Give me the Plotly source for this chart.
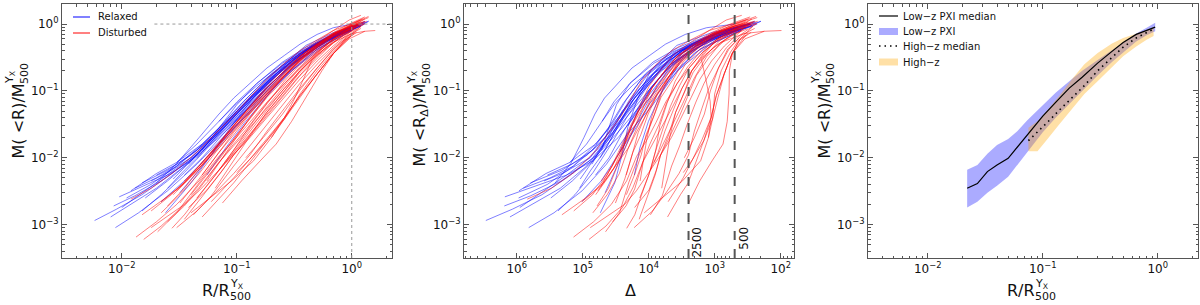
import plotly.graph_objects as go
import math

# ---------------- data ----------------
# Panel 1: enclosed-mass profiles, R/R500 (r) and M(<R)/M500 (m)
relaxed_r = [
    [0.0058, 0.009, 0.015, 0.025, 0.045, 0.08, 0.15, 0.3, 0.6, 1.1],
    [0.008, 0.012, 0.02, 0.035, 0.06, 0.1, 0.2, 0.4, 0.8, 1.3],
    [0.0088, 0.014, 0.025, 0.045, 0.08, 0.15, 0.3, 0.6, 1.0],
    [0.0095, 0.015, 0.025, 0.04, 0.07, 0.12, 0.25, 0.5, 1.0, 1.4],
    [0.0085, 0.013, 0.022, 0.04, 0.07, 0.12, 0.2, 0.4, 0.8, 1.2],
    [0.012, 0.02, 0.03, 0.05, 0.08, 0.12, 0.2, 0.35, 0.6, 1.0],
    [0.015, 0.022, 0.035, 0.06, 0.1, 0.18, 0.35, 0.7, 1.2],
    [0.013, 0.02, 0.03, 0.05, 0.09, 0.16, 0.3, 0.55, 1.0],
    [0.018, 0.025, 0.04, 0.06, 0.1, 0.2, 0.4, 0.8],
    [0.02, 0.03, 0.045, 0.07, 0.11, 0.18, 0.3, 0.5, 0.9, 1.3],
    [0.025, 0.035, 0.05, 0.08, 0.13, 0.25, 0.5, 1.0],
    [0.016, 0.025, 0.04, 0.065, 0.1, 0.16, 0.3, 0.6, 1.1],
    [0.03, 0.045, 0.07, 0.1, 0.15, 0.25, 0.45, 0.8, 1.2],
    [0.022, 0.035, 0.06, 0.1, 0.15, 0.25, 0.45, 0.8, 1.3],
    [0.035, 0.05, 0.075, 0.11, 0.17, 0.28, 0.5, 0.9],
    [0.028, 0.04, 0.06, 0.09, 0.14, 0.22, 0.4, 0.7, 1.1],
    [0.024, 0.04, 0.06, 0.09, 0.14, 0.22, 0.4, 0.7, 1.2],
    [0.045, 0.065, 0.1, 0.15, 0.25, 0.4, 0.7, 1.0],
    [0.05, 0.07, 0.1, 0.15, 0.25, 0.45, 0.8, 1.2],
    [0.06, 0.08, 0.12, 0.18, 0.3, 0.5, 0.9, 1.3],
    [0.01, 0.016, 0.025, 0.04, 0.07, 0.12, 0.22, 0.4, 0.7, 1.0],
    [0.011, 0.018, 0.03, 0.05, 0.08, 0.13, 0.22, 0.4, 0.7, 1.1],
    [0.032, 0.05, 0.08, 0.12, 0.2, 0.35, 0.6, 1.0],
    [0.07, 0.1, 0.15, 0.25, 0.4, 0.7, 1.1],
    [0.038, 0.055, 0.08, 0.12, 0.2, 0.35, 0.6, 1.0, 1.4],
    [0.09, 0.13, 0.2, 0.3, 0.5, 0.8, 1.2],
    [0.015, 0.025, 0.04, 0.06, 0.09, 0.14, 0.25, 0.45, 0.8, 1.2],
    [0.055, 0.08, 0.12, 0.2, 0.35, 0.6, 1.0],
    [0.02, 0.03, 0.047, 0.07, 0.094, 0.13, 0.183, 0.26, 0.355, 0.5, 0.69, 1.0],
]
relaxed_m = [
    [0.00115, 0.0017, 0.0028, 0.0052, 0.011, 0.027, 0.075, 0.24, 0.55, 0.9],
    [0.0013, 0.002, 0.0035, 0.0075, 0.018, 0.042, 0.13, 0.38, 0.75, 1.05],
    [0.0009, 0.0015, 0.0032, 0.008, 0.022, 0.06, 0.2, 0.5, 0.8],
    [0.0026, 0.0037, 0.0055, 0.009, 0.02, 0.05, 0.16, 0.42, 0.8, 1.1],
    [0.0019, 0.0027, 0.0045, 0.0095, 0.024, 0.06, 0.15, 0.4, 0.72, 0.92],
    [0.0032, 0.0058, 0.0085, 0.016, 0.035, 0.075, 0.18, 0.38, 0.62, 0.88],
    [0.0016, 0.0028, 0.006, 0.016, 0.042, 0.12, 0.36, 0.72, 1.0],
    [0.0035, 0.005, 0.0075, 0.015, 0.038, 0.1, 0.28, 0.55, 0.85],
    [0.0045, 0.006, 0.01, 0.02, 0.05, 0.16, 0.42, 0.8],
    [0.0055, 0.008, 0.013, 0.028, 0.065, 0.15, 0.3, 0.52, 0.85, 1.08],
    [0.0035, 0.0065, 0.012, 0.03, 0.075, 0.21, 0.5, 0.9],
    [0.0025, 0.0045, 0.009, 0.022, 0.05, 0.11, 0.3, 0.62, 0.95],
    [0.0085, 0.016, 0.035, 0.065, 0.12, 0.24, 0.45, 0.72, 0.95],
    [0.0022, 0.0045, 0.012, 0.03, 0.065, 0.15, 0.37, 0.7, 1.0],
    [0.0055, 0.01, 0.022, 0.045, 0.1, 0.22, 0.47, 0.8],
    [0.0048, 0.009, 0.018, 0.038, 0.085, 0.18, 0.4, 0.68, 0.93],
    [0.0015, 0.0042, 0.011, 0.03, 0.08, 0.2, 0.48, 0.75, 1.0],
    [0.01, 0.02, 0.045, 0.09, 0.2, 0.36, 0.62, 0.8],
    [0.013, 0.028, 0.062, 0.13, 0.26, 0.48, 0.78, 1.0],
    [0.012, 0.022, 0.05, 0.11, 0.25, 0.47, 0.82, 1.1],
    [0.0018, 0.0032, 0.0055, 0.01, 0.024, 0.065, 0.18, 0.4, 0.7, 0.9],
    [0.0025, 0.004, 0.0075, 0.016, 0.034, 0.075, 0.17, 0.38, 0.66, 0.9],
    [0.003, 0.0075, 0.02, 0.045, 0.12, 0.3, 0.55, 0.82],
    [0.035, 0.068, 0.13, 0.27, 0.45, 0.72, 0.98],
    [0.008, 0.016, 0.032, 0.07, 0.17, 0.36, 0.6, 0.86, 1.1],
    [0.03, 0.06, 0.13, 0.25, 0.45, 0.7, 0.95],
    [0.0042, 0.0065, 0.011, 0.02, 0.04, 0.09, 0.22, 0.46, 0.78, 1.02],
    [0.0055, 0.014, 0.035, 0.1, 0.28, 0.56, 0.85],
    [0.0042, 0.0082, 0.02, 0.045, 0.078, 0.13, 0.22, 0.34, 0.5, 0.7, 0.88, 1.0],
]
disturbed_r = [
    [0.0133, 0.02, 0.03, 0.047, 0.07, 0.094, 0.13, 0.183, 0.26, 0.355, 0.5, 0.69, 1.0],
    [0.0155, 0.022, 0.033, 0.047, 0.07, 0.094, 0.13, 0.183, 0.26, 0.355, 0.5, 0.69, 0.95, 1.25],
    [0.0205, 0.03, 0.047, 0.07, 0.094, 0.13, 0.183, 0.26, 0.355, 0.5, 0.69, 0.95, 1.3],
    [0.0273, 0.035, 0.047, 0.07, 0.094, 0.13, 0.183, 0.26, 0.355, 0.5, 0.69, 1.0, 1.3, 1.6],
    [0.075, 0.11, 0.16, 0.22, 0.3, 0.42, 0.55, 0.7, 0.9, 1.05],
    [0.04, 0.06, 0.09, 0.14, 0.2, 0.26, 0.31, 0.38, 0.45, 0.6, 0.85, 1.1],
    [0.012, 0.018, 0.028, 0.047, 0.07, 0.094, 0.13, 0.183, 0.26, 0.355, 0.5, 0.69, 1.0, 1.25],
    [0.018, 0.027, 0.04, 0.06, 0.094, 0.13, 0.183, 0.26, 0.355, 0.5, 0.69, 1.0, 1.2],
    [0.022, 0.033, 0.047, 0.07, 0.094, 0.13, 0.183, 0.26, 0.355, 0.5, 0.69, 1.0],
    [0.035, 0.047, 0.07, 0.094, 0.13, 0.183, 0.26, 0.355, 0.5, 0.69, 1.0, 1.3],
    [0.03, 0.047, 0.07, 0.094, 0.13, 0.183, 0.26, 0.355, 0.5, 0.69, 0.95, 1.2],
    [0.045, 0.065, 0.094, 0.13, 0.183, 0.26, 0.355, 0.5, 0.69, 1.0, 1.3],
    [0.055, 0.075, 0.094, 0.13, 0.183, 0.26, 0.355, 0.5, 0.69, 1.0, 1.15],
    [0.025, 0.035, 0.047, 0.07, 0.094, 0.13, 0.183, 0.26, 0.355, 0.5, 0.69, 1.0, 1.15],
    [0.038, 0.055, 0.075, 0.094, 0.13, 0.183, 0.26, 0.355, 0.5, 0.69, 1.0, 1.2],
    [0.05, 0.07, 0.094, 0.13, 0.183, 0.26, 0.355, 0.5, 0.69, 1.0, 1.4],
    [0.065, 0.094, 0.13, 0.183, 0.26, 0.355, 0.5, 0.69, 0.9, 1.1],
    [0.015, 0.024, 0.035, 0.047, 0.07, 0.094, 0.13, 0.183, 0.26, 0.355, 0.5, 0.69, 1.0, 1.1],
    [0.032, 0.047, 0.07, 0.094, 0.13, 0.183, 0.26, 0.355, 0.5, 0.69, 1.0],
    [0.042, 0.06, 0.094, 0.13, 0.183, 0.26, 0.355, 0.5, 0.69, 0.9, 1.3],
    [0.07, 0.094, 0.13, 0.183, 0.26, 0.355, 0.5, 0.69, 1.0, 1.25],
    [0.1, 0.13, 0.183, 0.26, 0.355, 0.5, 0.69, 1.0],
    [0.06, 0.094, 0.13, 0.183, 0.26, 0.355, 0.5, 0.69, 0.95, 1.3],
    [0.028, 0.04, 0.06, 0.094, 0.13, 0.183, 0.26, 0.355, 0.5, 0.69, 1.0, 1.4],
    [0.2, 0.26, 0.355, 0.5, 0.69, 0.85, 1.1],
    [0.035, 0.047, 0.07, 0.094, 0.13, 0.183, 0.26, 0.355, 0.5, 0.69, 1.0, 1.35],
    [0.018, 0.026, 0.035, 0.047, 0.07, 0.094, 0.13, 0.183, 0.26, 0.355, 0.5, 0.69, 1.05],
    [0.08, 0.11, 0.15, 0.22, 0.33, 0.5, 0.75, 1.05],
    [0.12, 0.17, 0.25, 0.35, 0.5, 0.7, 0.95, 1.2],
    [0.05, 0.075, 0.094, 0.13, 0.183, 0.26, 0.355, 0.5, 0.69, 0.9, 1.2],
    [0.03, 0.045, 0.065, 0.094, 0.13, 0.183, 0.26, 0.355, 0.5, 0.69, 0.9],
    [0.022, 0.032, 0.047, 0.07, 0.094, 0.13, 0.183, 0.26, 0.355, 0.5, 0.69, 1.0, 1.2],
    [0.025, 0.035, 0.05, 0.07, 0.094, 0.13, 0.183, 0.26, 0.355, 0.5, 0.69, 0.95, 1.3],
    [0.04, 0.055, 0.075, 0.1, 0.14, 0.2, 0.28, 0.4, 0.55, 0.75, 1.0, 1.2],
]
disturbed_m = [
    [0.00065, 0.0011, 0.002, 0.0045, 0.0105, 0.018, 0.034, 0.068, 0.13, 0.22, 0.38, 0.58, 0.85],
    [0.0006, 0.00095, 0.0018, 0.0036, 0.0085, 0.015, 0.028, 0.055, 0.11, 0.2, 0.36, 0.6, 0.85, 1.02],
    [0.00078, 0.0015, 0.0042, 0.01, 0.019, 0.038, 0.08, 0.15, 0.27, 0.45, 0.68, 0.92, 1.1],
    [0.00088, 0.0014, 0.0027, 0.0065, 0.012, 0.025, 0.052, 0.11, 0.2, 0.35, 0.53, 0.72, 0.78, 0.8],
    [0.0021, 0.0045, 0.009, 0.016, 0.035, 0.09, 0.2, 0.37, 0.6, 0.72],
    [0.0015, 0.0026, 0.0045, 0.009, 0.02, 0.04, 0.07, 0.15, 0.29, 0.45, 0.68, 0.85],
    [0.0024, 0.0035, 0.006, 0.013, 0.026, 0.043, 0.08, 0.15, 0.26, 0.4, 0.58, 0.8, 1.02, 1.2],
    [0.0016, 0.0028, 0.0055, 0.012, 0.03, 0.055, 0.1, 0.19, 0.32, 0.5, 0.72, 1.0, 1.15],
    [0.0022, 0.0038, 0.0075, 0.017, 0.031, 0.058, 0.11, 0.2, 0.33, 0.5, 0.72, 0.95],
    [0.0012, 0.0023, 0.0055, 0.011, 0.022, 0.048, 0.1, 0.19, 0.34, 0.56, 0.88, 1.2],
    [0.0032, 0.007, 0.016, 0.03, 0.06, 0.12, 0.22, 0.36, 0.55, 0.8, 1.15, 1.35],
    [0.0025, 0.0055, 0.013, 0.027, 0.058, 0.12, 0.22, 0.38, 0.58, 0.84, 1.02],
    [0.0045, 0.01, 0.018, 0.04, 0.085, 0.17, 0.3, 0.48, 0.7, 0.95, 1.06],
    [0.0011, 0.0019, 0.0034, 0.0085, 0.016, 0.031, 0.066, 0.13, 0.23, 0.4, 0.6, 0.88, 0.95],
    [0.0018, 0.0033, 0.0065, 0.011, 0.021, 0.042, 0.088, 0.17, 0.31, 0.53, 0.84, 0.98],
    [0.0055, 0.012, 0.022, 0.045, 0.09, 0.17, 0.29, 0.47, 0.7, 0.98, 1.25],
    [0.0035, 0.009, 0.021, 0.048, 0.1, 0.2, 0.37, 0.6, 0.8, 0.9],
    [0.0014, 0.0025, 0.0042, 0.007, 0.014, 0.026, 0.05, 0.1, 0.18, 0.3, 0.48, 0.7, 0.95, 1.0],
    [0.0021, 0.0048, 0.012, 0.024, 0.047, 0.092, 0.17, 0.28, 0.44, 0.65, 0.88],
    [0.0014, 0.0027, 0.0075, 0.015, 0.032, 0.068, 0.13, 0.25, 0.44, 0.65, 1.02],
    [0.0065, 0.013, 0.03, 0.065, 0.14, 0.25, 0.42, 0.64, 0.9, 1.05],
    [0.006, 0.0095, 0.018, 0.038, 0.08, 0.18, 0.36, 0.68],
    [0.0022, 0.005, 0.0095, 0.019, 0.04, 0.085, 0.18, 0.36, 0.6, 0.78],
    [0.0028, 0.0052, 0.011, 0.028, 0.055, 0.11, 0.2, 0.33, 0.5, 0.72, 1.0, 1.3],
    [0.02, 0.038, 0.09, 0.2, 0.38, 0.55, 0.75],
    [0.0045, 0.0075, 0.016, 0.028, 0.05, 0.095, 0.18, 0.31, 0.48, 0.68, 0.92, 1.1],
    [0.0009, 0.0014, 0.002, 0.0032, 0.0065, 0.011, 0.02, 0.04, 0.08, 0.15, 0.28, 0.47, 0.85],
    [0.0085, 0.016, 0.03, 0.065, 0.15, 0.33, 0.58, 0.85],
    [0.01, 0.02, 0.045, 0.1, 0.22, 0.42, 0.68, 0.86],
    [0.0013, 0.0028, 0.0042, 0.0085, 0.018, 0.04, 0.085, 0.18, 0.36, 0.6, 0.92],
    [0.0009, 0.0016, 0.003, 0.0058, 0.011, 0.025, 0.055, 0.11, 0.22, 0.42, 0.62],
    [0.0015, 0.0028, 0.0058, 0.014, 0.025, 0.047, 0.09, 0.17, 0.29, 0.46, 0.66, 0.92, 1.02],
    [0.0019, 0.0035, 0.0075, 0.016, 0.03, 0.058, 0.11, 0.2, 0.33, 0.52, 0.74, 1.0, 1.28],
    [0.0028, 0.0055, 0.011, 0.022, 0.045, 0.1, 0.19, 0.34, 0.52, 0.74, 0.95, 1.08],
]

# Panel 3: low-z PXI median and band, high-z median and band
lowz_r = [0.022, 0.027, 0.033, 0.04, 0.05, 0.06, 0.073, 0.1, 0.13, 0.17, 0.22, 0.3, 0.4, 0.5, 0.65, 0.8, 0.95]
lowz_med = [0.0035, 0.0041, 0.0062, 0.0078, 0.0098, 0.0145, 0.022, 0.042, 0.068, 0.11, 0.16, 0.26, 0.39, 0.53, 0.7, 0.8, 0.9]
lowz_hi = [0.0066, 0.0078, 0.0115, 0.0155, 0.019, 0.025, 0.036, 0.062, 0.095, 0.14, 0.2, 0.29, 0.41, 0.53, 0.72, 0.88, 1.05]
lowz_lo = [0.0018, 0.0022, 0.003, 0.0038, 0.0052, 0.0075, 0.012, 0.024, 0.04, 0.065, 0.1, 0.17, 0.27, 0.38, 0.55, 0.68, 0.78]
highz_r = [0.075, 0.09, 0.11, 0.14, 0.18, 0.23, 0.3, 0.4, 0.5, 0.65, 0.8, 0.92]
highz_med = [0.018, 0.024, 0.034, 0.052, 0.08, 0.12, 0.2, 0.32, 0.45, 0.62, 0.75, 0.84]
highz_hi = [0.028, 0.035, 0.052, 0.085, 0.15, 0.25, 0.37, 0.51, 0.62, 0.73, 0.81, 0.87]
highz_lo = [0.0125, 0.0125, 0.019, 0.032, 0.055, 0.09, 0.14, 0.23, 0.33, 0.46, 0.58, 0.66]

delta_marks = [2500, 500]
delta_mark_labels = ["2500", "500"]

r_ticks = [0.01, 0.1, 1]
r_ticklabels = ["10<sup>−2</sup>", "10<sup>−1</sup>", "10<sup>0</sup>"]
m_ticks = [0.001, 0.01, 0.1, 1]
m_ticklabels = ["10<sup>−3</sup>", "10<sup>−2</sup>", "10<sup>−1</sup>", "10<sup>0</sup>"]
d_ticks = [1e2, 1e3, 1e4, 1e5, 1e6]
d_ticklabels = ["10<sup>2</sup>", "10<sup>3</sup>", "10<sup>4</sup>", "10<sup>5</sup>", "10<sup>6</sup>"]

legend1_names = ["Relaxed", "Disturbed"]
legend3_names = ["Low−z PXI median", "Low−z PXI", "High−z median", "High−z"]

# ---------------- figure ----------------
W, H = 1200, 305
FONT = "DejaVu Sans"
BLUE = "rgba(0,0,255,0.5)"
RED = "rgba(255,0,0,0.5)"
BAND_BLUE = "rgba(0,0,255,0.33)"
BAND_ORANGE = "rgba(255,165,0,0.35)"
MED_DASH = "1.5px,4px"

fig = go.Figure()


def overdensity(r_list, m_list):
    # Delta(<R) = 500 * (M/M500) / (R/R500)^3
    return [500.0 * m / r ** 3 for r, m in zip(r_list, m_list)]


for rr, mm in zip(relaxed_r, relaxed_m):
    fig.add_trace(go.Scatter(x=rr, y=mm, mode="lines", line=dict(color=BLUE, width=1),
                             name=legend1_names[0], showlegend=False, hoverinfo="skip",
                             xaxis="x", yaxis="y"))
for rr, mm in zip(disturbed_r, disturbed_m):
    fig.add_trace(go.Scatter(x=rr, y=mm, mode="lines", line=dict(color=RED, width=1),
                             name=legend1_names[1], showlegend=False, hoverinfo="skip",
                             xaxis="x", yaxis="y"))

for rr, mm in zip(relaxed_r, relaxed_m):
    fig.add_trace(go.Scatter(x=overdensity(rr, mm), y=mm, mode="lines", line=dict(color=BLUE, width=1),
                             name=legend1_names[0], showlegend=False, hoverinfo="skip",
                             xaxis="x2", yaxis="y2"))
for rr, mm in zip(disturbed_r, disturbed_m):
    fig.add_trace(go.Scatter(x=overdensity(rr, mm), y=mm, mode="lines", line=dict(color=RED, width=1),
                             name=legend1_names[1], showlegend=False, hoverinfo="skip",
                             xaxis="x2", yaxis="y2"))

# panel 3 bands + medians
fig.add_trace(go.Scatter(x=lowz_r + lowz_r[::-1], y=lowz_hi + lowz_lo[::-1], fill="toself",
                         fillcolor=BAND_BLUE, line=dict(width=0), mode="lines",
                         name=legend3_names[1], showlegend=False, xaxis="x3", yaxis="y3"))
fig.add_trace(go.Scatter(x=highz_r + highz_r[::-1], y=highz_hi + highz_lo[::-1], fill="toself",
                         fillcolor=BAND_ORANGE, line=dict(width=0), mode="lines",
                         name=legend3_names[3], showlegend=False, xaxis="x3", yaxis="y3"))
fig.add_trace(go.Scatter(x=lowz_r, y=lowz_med, mode="lines", line=dict(color="black", width=1.2),
                         name=legend3_names[0], showlegend=False, xaxis="x3", yaxis="y3"))
fig.add_trace(go.Scatter(x=highz_r, y=highz_med, mode="lines",
                         line=dict(color="black", width=1.6, dash=MED_DASH),
                         name=legend3_names[2], showlegend=False, xaxis="x3", yaxis="y3"))


def minor_vals(lo, hi):
    out = []
    for e in range(lo, hi + 1):
        for k in range(2, 10):
            out.append(k * 10.0 ** e)
    return out


def axis(dom, rng, tv, tt, minor, anchor):
    return dict(type="log", domain=dom, range=rng, anchor=anchor,
                showline=True, linecolor="#555555", linewidth=1, mirror="ticks",
                ticks="inside", ticklen=5, tickwidth=1, tickcolor="#555555",
                showgrid=False, zeroline=False,
                tickmode="array", tickvals=tv, ticktext=tt,
                tickfont=dict(family=FONT, size=12, color="#111111"),
                minor=dict(tickmode="array", tickvals=minor, ticks="inside", ticklen=2.5,
                           tickcolor="#555555", showgrid=False))


ydom = [(H - 258) / H, (H - 4) / H]
x1 = [62 / W, 392 / W]
x2 = [464 / W, 794 / W]
x3 = [868 / W, 1198 / W]

fig.update_layout(
    width=W, height=H,
    margin=dict(l=0, r=0, t=0, b=0),
    paper_bgcolor="white", plot_bgcolor="white",
    showlegend=False,
    font=dict(family=FONT, size=12, color="#111111"),
    xaxis=axis(x1, [-2.52, 0.35], r_ticks, r_ticklabels, minor_vals(-3, 0), "y"),
    yaxis=axis(ydom, [-3.5, 0.3], m_ticks, m_ticklabels, minor_vals(-4, 0), "x"),
    xaxis2=axis(x2, [6.8, 1.8], d_ticks, d_ticklabels, minor_vals(1, 6), "y2"),
    yaxis2=axis(ydom, [-3.5, 0.3], m_ticks, m_ticklabels, minor_vals(-4, 0), "x2"),
    xaxis3=axis(x3, [-2.52, 0.35], r_ticks, r_ticklabels, minor_vals(-3, 0), "y3"),
    yaxis3=axis(ydom, [-3.5, 0.3], m_ticks, m_ticklabels, minor_vals(-4, 0), "x3"),
)

# reference lines
fig.add_shape(type="line", xref="x domain", yref="y", x0=0.28, x1=1, y0=1, y1=1,
              line=dict(color="#999999", width=1, dash="dot"))
fig.add_shape(type="line", xref="x", yref="y domain", x0=1, x1=1, y0=0, y1=1,
              line=dict(color="#999999", width=1, dash="dot"))
for d, lab in zip(delta_marks, delta_mark_labels):
    fig.add_shape(type="line", xref="x2", yref="y2 domain", x0=d, x1=d, y0=0, y1=1,
                  line=dict(color="#555555", width=2, dash="dash"))
    fig.add_annotation(x=math.log10(d), y=-3, xref="x2", yref="y2", text=lab, textangle=-90,
                       showarrow=False, xanchor="left", yanchor="top", xshift=0,
                       font=dict(family=FONT, size=12, color="#111111"))


# ---- helpers for pixel placement ----
def px(x):
    return x / W


def py(y):
    return (H - y) / H


def note(x, y, text, size, xa, ya, angle=0):
    fig.add_annotation(x=px(x), y=py(y), xref="paper", yref="paper", text=text, showarrow=False,
                       xanchor=xa, yanchor=ya, textangle=angle, borderpad=0, borderwidth=0,
                       font=dict(family=FONT, size=size, color="#111111"))


# ---- legends (keys + texts, matplotlib-style compact spacing) ----
def legend_line(x0, x1, y, color, width=2, dash="solid"):
    fig.add_shape(type="line", xref="paper", yref="paper", x0=px(x0), x1=px(x1), y0=py(y), y1=py(y),
                  line=dict(color=color, width=width, dash=dash))


def legend_patch(x0, x1, y, color):
    fig.add_shape(type="rect", xref="paper", yref="paper", x0=px(x0), x1=px(x1),
                  y0=py(y + 3.5), y1=py(y - 3.5), fillcolor=color, line=dict(width=0))


legend_line(73, 90, 17, "#8080ff")
note(98, 17, legend1_names[0], 10, "left", "middle")
legend_line(73, 90, 33, "#ff8080")
note(98, 33, legend1_names[1], 10, "left", "middle")

legend_line(879, 898, 16, "black", width=1.2)
note(903, 16, legend3_names[0], 10, "left", "middle")
legend_patch(879, 898, 31.5, BAND_BLUE)
note(903, 31.5, legend3_names[1], 10, "left", "middle")
legend_line(879, 898, 46, "black", width=1.6, dash=MED_DASH)
note(903, 46, legend3_names[2], 10, "left", "middle")
legend_patch(879, 898, 62, BAND_ORANGE)
note(903, 62, legend3_names[3], 10, "left", "middle")


# ---- axis titles: main text + stacked superscript / subscript column ----
def xtitle(split, ys, main, sub=None, sup=None):
    note(split, ys, main, 16, "right" if sub else "center", "middle")
    if sub:
        note(split, ys, sub, 11, "left", "top")
    if sup:
        note(split, ys + 1, sup, 11, "left", "bottom")


def ytitle(c, ys, main, sub, sup):
    note(c, ys, main, 16, "center", "top", -90)
    note(c, ys, sub, 11, "left", "bottom", -90)
    note(c - 1, ys, sup, 11, "right", "bottom", -90)


xtitle(230, 290, "R/R", "500", "Y<sub>X</sub>")
xtitle(630, 290, "Δ")
xtitle(1035, 290, "R/R", "500", "Y<sub>X</sub>")
ytitle(18, 84, "M( &lt;R)/M", "500", "Y<sub>X</sub>")
ytitle(420, 84, "M( &lt;R<sub>Δ</sub>)/M", "500", "Y<sub>X</sub>")
ytitle(824, 84, "M( &lt;R)/M", "500", "Y<sub>X</sub>")

fig.write_html("out.html", config={"displayModeBar": False},
               post_script="document.body.style.margin='0px';")
